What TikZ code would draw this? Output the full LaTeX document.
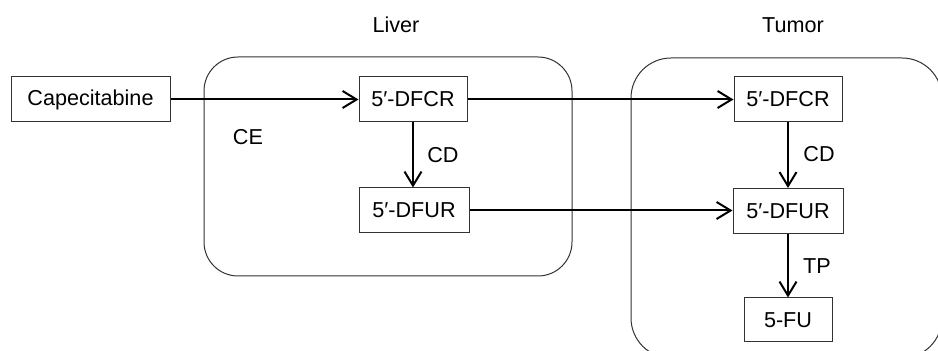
\documentclass[tikz,border=0pt]{standalone}
\usepackage{fontspec}
\setmainfont{Liberation Sans}
\usetikzlibrary{arrows.meta}
\begin{document}
\begin{tikzpicture}[x=0.5pt,y=-0.5pt,
    font=\fontsize{10.8}{12}\selectfont,
    drug/.style={draw=black!80,line width=0.5pt,minimum height=22.5pt,inner sep=0pt},
    organ/.style={draw=black!80,line width=0.5pt},
    flow/.style={line width=1pt,-{Straight Barb[length=7pt,width=8.5pt,line width=1pt]}}]
      \useasboundingbox (0,0) rectangle (938,351);
      \clip (0,0) rectangle (938,351);
      \draw[organ,rounded corners=17pt] (204,57) rectangle (572,276);
      \draw[organ,rounded corners=20pt] (631,58) rectangle (942,358);
      \node (liver) at (396,25) {Liver};
      \node (tumor) at (793,25) {Tumor};
      \node[drug,minimum width=79.5pt] (cape) at (90.5,99.5) {Capecitabine};
      \node[drug,minimum width=54pt] (dfcrL) at (413,99.5) {5′-DFCR};
      \node[drug,minimum width=55pt] (dfurL) at (414,210.5) {5′-DFUR};
      \node[drug,minimum width=54pt] (dfcrT) at (788,99.5) {5′-DFCR};
      \node[drug,minimum width=55pt] (dfurT) at (788,211) {5′-DFUR};
      \node[drug,minimum width=44pt,minimum height=22pt] (fu) at (788,320) {5-FU};
      \node (ce) at (248,137) {CE};
      \node (cdL) at (443,155) {CD};
      \node (cdT) at (819,154) {CD};
      \node (tp) at (817,266) {TP};
      \draw[flow] (cape) -- (dfcrL);
      \draw[flow] (dfcrL) -- (dfcrL|-dfurL.north);
      \draw[flow] (dfcrL) -- (dfcrT);
      \draw[flow] (dfurL.east) -- (dfurL.east-|dfurT.west);
      \draw[flow] (dfcrT) -- (dfurT);
      \draw[flow] (dfurT) -- (fu);
\end{tikzpicture}
\end{document}
